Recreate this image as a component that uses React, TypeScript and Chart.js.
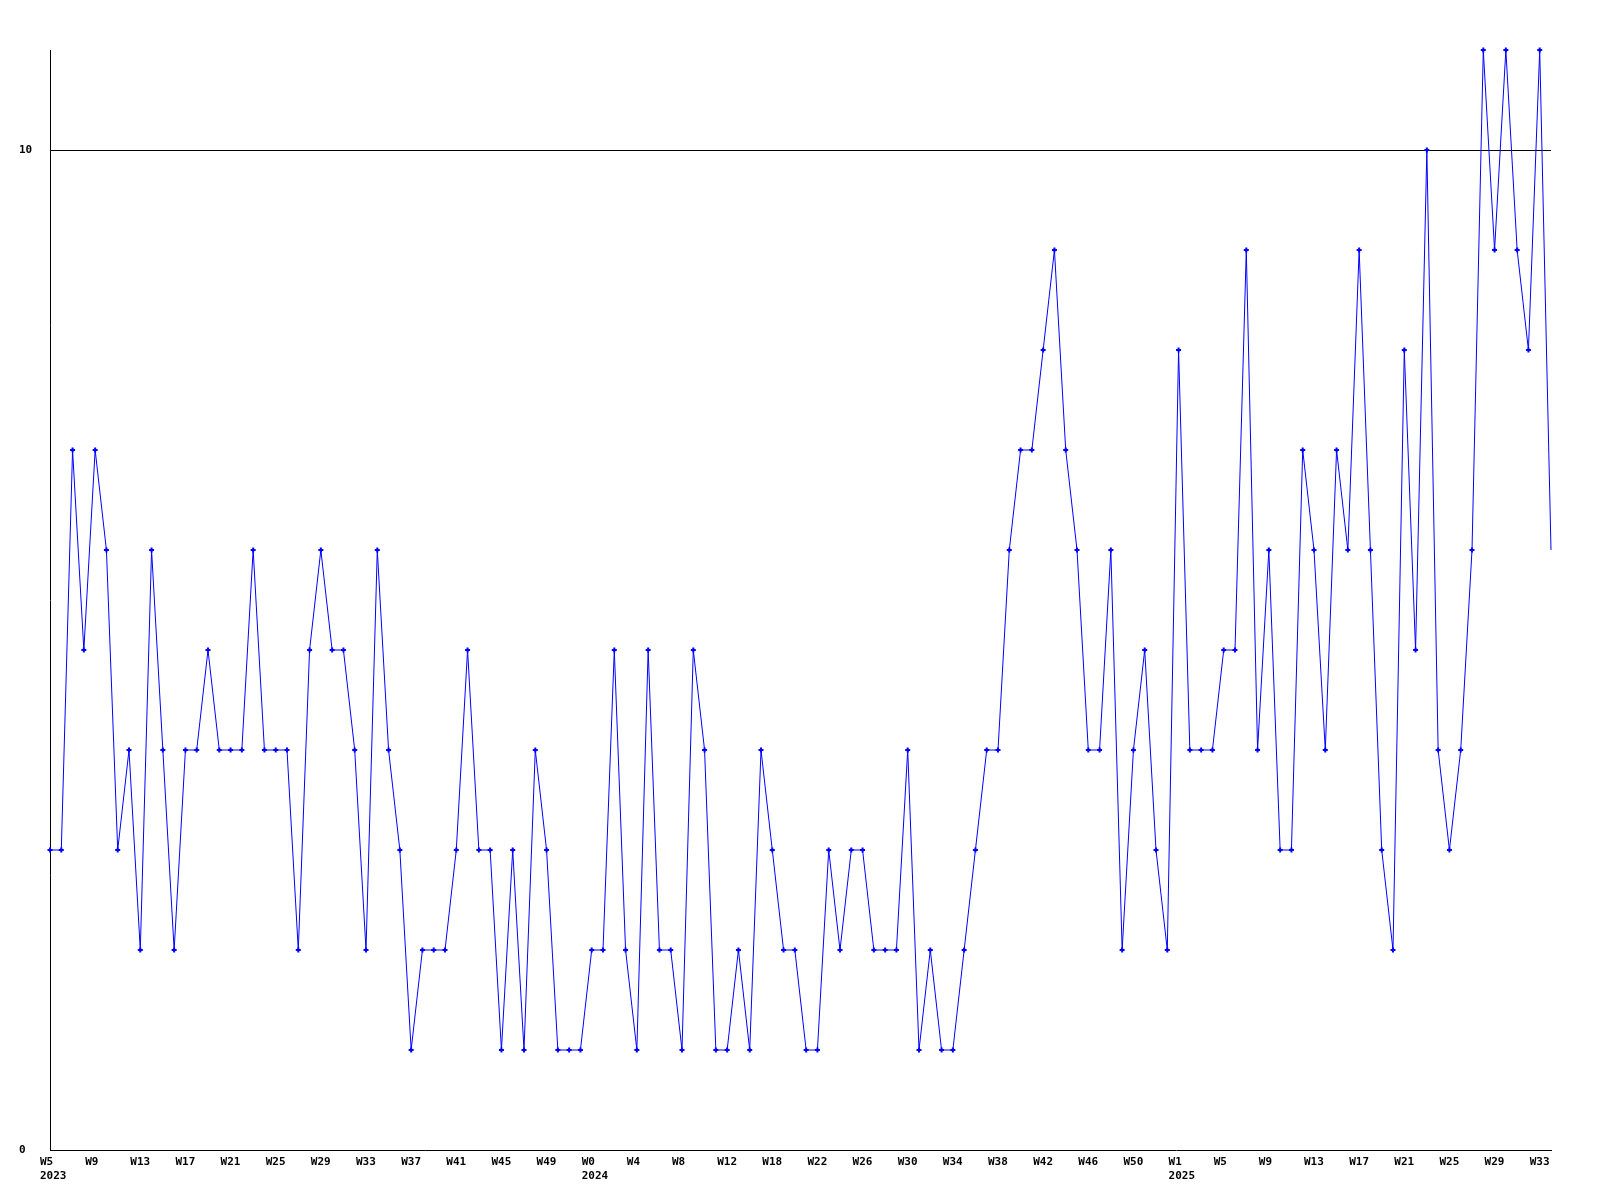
import React, { useEffect, useRef } from "react";
import { Chart, registerables } from "chart.js";

Chart.register(...registerables);

// Category weeks per year (as they appear along the x axis)
const weeks2023: number[] = [
  5, 6, 7, 8, 9, 10, 11, 12, 13, 14, 15, 16, 17, 18, 19, 20, 21, 22, 23, 24, 25, 26, 27, 28,
  29, 30, 31, 32, 33, 34, 35, 36, 37, 38, 39, 40, 41, 42, 43, 44, 45, 46, 47, 48, 49, 50, 51, 52,
];
const weeks2024: number[] = [
  0, 1, 2, 3, 4, 5, 6, 7, 8, 9, 10, 11, 12, 15, 16, 17, 18, 19, 20, 21, 22, 23, 24, 25, 26,
  27, 28, 29, 30, 31, 32, 33, 34, 35, 36, 37, 38, 39, 40, 41, 42, 43, 44, 45, 46, 47, 48, 49, 50, 51, 52,
];
const weeks2025: number[] = [
  0, 1, 2, 3, 4, 5, 6, 7, 8, 9, 10, 11, 12, 13, 14, 15, 16, 17, 18, 19, 20, 21, 22, 23, 24,
  25, 26, 27, 28, 29, 30, 31, 32, 33, 34,
];

const values2023: number[] = [
  3, 3, 7, 5, 7, 6, 3, 4, 2, 6, 4, 2, 4, 4, 5, 4, 4, 4, 6, 4, 4, 4, 2, 5,
  6, 5, 5, 4, 2, 6, 4, 3, 1, 2, 2, 2, 3, 5, 3, 3, 1, 3, 1, 4, 3, 1, 1, 1,
];
const values2024: number[] = [
  2, 2, 5, 2, 1, 5, 2, 2, 1, 5, 4, 1, 1, 2, 1, 4, 3, 2, 2, 1, 1, 3, 2, 3, 3,
  2, 2, 2, 4, 1, 2, 1, 1, 2, 3, 4, 4, 6, 7, 7, 8, 9, 7, 6, 4, 4, 6, 2, 4, 5, 3,
];
const values2025: number[] = [
  2, 8, 4, 4, 4, 5, 5, 9, 4, 6, 3, 3, 7, 6, 4, 7, 6, 9, 6, 3, 2, 8, 5, 10, 4,
  3, 4, 6, 11, 9, 11, 9, 8, 11, 6,
];

const yTickValues: number[] = [0, 10];
const yMin = 0;
const yMax = 11;

const categoryWeeks: string[] = [
  ...weeks2023.map((w) => `W${w}`),
  ...weeks2024.map((w) => `W${w}`),
  ...weeks2025.map((w) => `W${w}`),
];
const categoryYears: string[] = [
  ...weeks2023.map(() => "2023"),
  ...weeks2024.map(() => "2024"),
  ...weeks2025.map(() => "2025"),
];
const seriesValues: number[] = [...values2023, ...values2024, ...values2025];

const LABEL_STEP = 4;

export default function App() {
  const canvasRef = useRef<HTMLCanvasElement | null>(null);

  useEffect(() => {
    const canvas = canvasRef.current;
    if (!canvas) return;
    const tickFont = { family: "'DejaVu Sans Mono', monospace", size: 11, weight: "bold" as const, lineHeight: 1.3 };
    const last = seriesValues.length - 1;
    const chart = new Chart(canvas, {
      type: "line",
      data: {
        labels: categoryWeeks,
        datasets: [
          {
            data: seriesValues,
            borderColor: "#0000ff",
            backgroundColor: "#0000ff",
            borderWidth: 1,
            tension: 0,
            fill: false,
            pointStyle: "cross",
            pointRadius: (ctx: any) => (ctx.dataIndex === last ? 0 : 2.5),
            pointBorderWidth: 2,
            pointBorderColor: "#0000ff",
            pointBackgroundColor: "#0000ff",
            clip: false as any,
          },
        ],
      },
      options: {
        responsive: false,
        animation: false,
        devicePixelRatio: 1,
        layout: { padding: { left: 19, top: 50, right: 49, bottom: 0 } },
        plugins: {
          legend: { display: false },
          tooltip: { enabled: false },
          title: { display: false },
        },
        scales: {
          x: {
            type: "category",
            grid: { display: false, drawTicks: false },
            border: { display: true, color: "#000000", width: 1 },
            ticks: {
              autoSkip: false,
              maxRotation: 0,
              minRotation: 0,
              align: "start",
              labelOffset: -10,
              padding: 5,
              color: "#000000",
              font: tickFont,
              callback: (_value: any, index: number) => {
                if (index % LABEL_STEP !== 0) return "";
                const wk = categoryWeeks[index];
                const yr = categoryYears[index];
                const prevYr = index >= LABEL_STEP ? categoryYears[index - LABEL_STEP] : null;
                if (prevYr !== yr) return [wk, yr];
                return wk;
              },
            },
            afterFit: (scale: any) => {
              scale.height = 50;
            },
          },
          y: {
            type: "linear",
            min: yMin,
            max: yMax,
            grid: {
              drawTicks: false,
              lineWidth: 1,
              color: (ctx: any) => (ctx.tick && ctx.tick.value === 10 ? "#000000" : "rgba(0,0,0,0)"),
            },
            border: { display: true, color: "#000000", width: 1 },
            ticks: {
              crossAlign: "far",
              padding: 0,
              color: "#000000",
              font: tickFont,
            },
            afterBuildTicks: (scale: any) => {
              scale.ticks = yTickValues.map((v) => ({ value: v }));
            },
            afterFit: (scale: any) => {
              scale.width = 31;
            },
          },
        },
      },
    } as any);
    return () => {
      chart.destroy();
    };
  }, []);

  return (
    <div style={{ position: "absolute", left: 0, top: 0, width: 1600, height: 1200, background: "#ffffff" }}>
      <canvas ref={canvasRef} width={1600} height={1200} style={{ display: "block" }} />
    </div>
  );
}
